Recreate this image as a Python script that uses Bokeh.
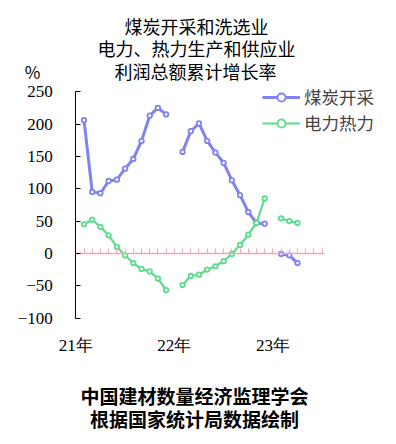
from bokeh.plotting import figure
from bokeh.models import (LinearAxis, FixedTicker, Label, Legend, LegendItem, Range1d,
                          CustomJSTickFormatter)
from bokeh.embed import file_html
from bokeh.resources import INLINE

nan = float("nan")

# months Jan 2021 .. Apr 2023 (Jan values are not published -> gaps)
months = ["21-01", "21-02", "21-03", "21-04", "21-05", "21-06", "21-07", "21-08",
          "21-09", "21-10", "21-11", "21-12",
          "22-01", "22-02", "22-03", "22-04", "22-05", "22-06", "22-07", "22-08",
          "22-09", "22-10", "22-11", "22-12",
          "23-01", "23-02", "23-03", "23-04"]
coal = [nan, 206, 95, 93, 112, 114, 131, 146, 174, 213, 225, 215,
        nan, 157, 189, 201, 174, 156, 140, 113, 90, 64, 47, 46,
        nan, -1, -3, -15]
power = [nan, 45, 52, 41, 28, 10, -3, -15, -24, -28, -39, -57,
         nan, -49, -35, -33, -25, -20, -12, -1, 13, 29, 47, 85,
         nan, 54, 50, 47]
year_labels = ["21年", "22年", "23年"]
y_ticks = [-100, -50, 0, 50, 100, 150, 200, 250]
series_names = ["煤炭开采", "电力热力"]

BLUE = "#8282F0"
GREEN = "#5CDC8C"
PINK = "#F2A6BA"
CJK = "Noto Sans CJK SC"
SERIF = "Liberation Serif"

W, H = 390, 440
# pixel geometry of the plotting area (canvas pixels)
PX_X0, PX_PER_IDX = 75.3, 8.213      # month index 0 position, px per month
PX_YTOP, PX_PER_UNIT = 91.3, 0.6463  # pixel of y=250, px per percent
Y_MAX, Y_MIN = 250, -100
X_END = 30.3

x = list(range(len(months)))
n_ticks = 31

x_range = Range1d(-PX_X0 / PX_PER_IDX, (W - PX_X0) / PX_PER_IDX)
y_range = Range1d(Y_MAX - (H - PX_YTOP) / PX_PER_UNIT, Y_MAX + PX_YTOP / PX_PER_UNIT)

p = figure(width=W, height=H, output_backend="svg", toolbar_location=None,
           x_range=x_range, y_range=y_range,
           x_axis_location=None, y_axis_location=None,
           min_border=0)
p.outline_line_color = None
p.xgrid.visible = False
p.ygrid.visible = False

yax = LinearAxis(fixed_location=0, bounds=(Y_MIN, Y_MAX),
                 ticker=FixedTicker(ticks=y_ticks), major_tick_in=5, major_tick_out=0,
                 minor_tick_line_color=None, axis_line_color="black",
                 major_tick_line_color="black", major_label_standoff=23,
                 major_label_text_font=SERIF, major_label_text_font_size="17px",
                 major_label_text_color="black")
p.add_layout(yax, "left")

year_ticks = [12 * i for i in range(len(year_labels))]
xax = LinearAxis(fixed_location=Y_MIN, ticker=FixedTicker(ticks=year_ticks),
                 major_label_overrides={t: l for t, l in zip(year_ticks, year_labels)},
                 axis_line_color=None, major_tick_line_color=None,
                 minor_tick_line_color=None, major_label_standoff=12,
                 major_label_text_font=SERIF, major_label_text_font_size="17px",
                 major_label_text_color="black")
p.add_layout(xax, "below")

zax = LinearAxis(fixed_location=0, bounds=(0, X_END),
                 ticker=FixedTicker(ticks=list(range(n_ticks))),
                 formatter=CustomJSTickFormatter(code="return ''"),
                 axis_line_color=PINK, major_tick_line_color=PINK,
                 major_tick_in=5, major_tick_out=0, minor_tick_line_color=None,
                 axis_line_width=1.5)
p.add_layout(zax, "below")

bl = p.line(x, coal, line_color=BLUE, line_width=3)
bs = p.scatter(x, coal, marker="circle", size=4.5, fill_color="white",
               line_color=BLUE, line_width=1.8)
gl = p.line(x, power, line_color=GREEN, line_width=2.2)
gs = p.scatter(x, power, marker="circle", size=4.5, fill_color="white",
               line_color=GREEN, line_width=1.8)

legend = Legend(items=[LegendItem(label=series_names[0], renderers=[bl, bs]),
                       LegendItem(label=series_names[1], renderers=[gl, gs])],
                location=(262, H - 135.2), border_line_color=None,
                background_fill_alpha=0, padding=0, margin=0,
                glyph_width=38, glyph_height=20, label_height=20,
                label_standoff=4, spacing=1,
                label_text_font=CJK, label_text_font_size="17.5px")
p.add_layout(legend)


def lab(text, xx, ytop, size, bold=False, align="center"):
    p.add_layout(Label(x=xx, y=H - ytop, x_units="screen", y_units="screen", text=text,
                       text_font=CJK, text_font_size=size,
                       text_font_style="bold" if bold else "normal",
                       text_align=align, text_baseline="middle",
                       text_color="black"))


lab("煤炭开采和洗选业", 196, 25, "18px")
lab("电力、热力生产和供应业", 196, 47.5, "18px")
lab("利润总额累计增长率", 195, 70.5, "18px")
lab("%", 32, 71, "17px")
lab("中国建材数量经济监理学会", 194, 395, "19px", bold=True)
lab("根据国家统计局数据绘制", 194, 417.5, "19px", bold=True)

open("out.html", "w").write(file_html(p, INLINE))
